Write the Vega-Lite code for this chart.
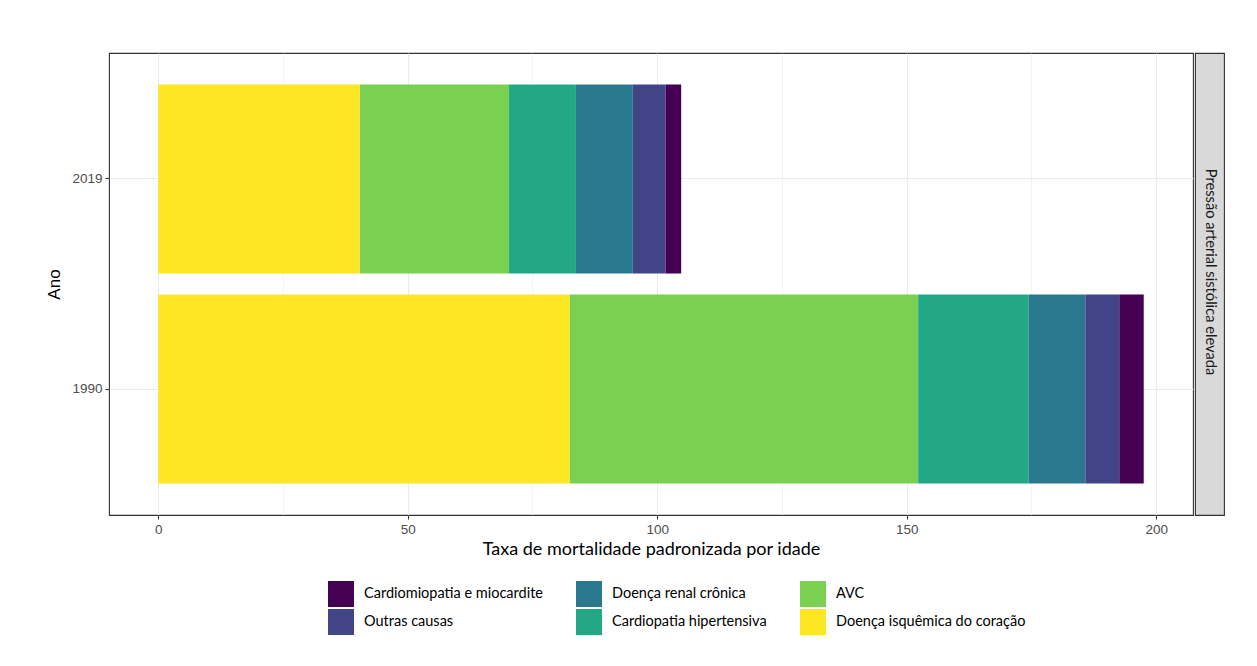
{
  "$schema": "https://vega.github.io/schema/vega-lite/v6.json",
  "padding": {"left": 45, "top": 52, "right": 5, "bottom": 5},
  "background": "white",
  "spacing": 0,
  "config": {
    "font": "Liberation Sans",
    "axis": {"domain": false, "tickColor": "#333333", "labelColor": "#4d4d4d", "labelFont": "Liberation Sans", "labelFontSize": 13.5, "titleFontWeight": "normal", "titleColor": "#000000"},
    "legend": {"labelFont": "Lato", "labelFontSize": 14.5, "labelColor": "#000000", "labelLimit": 400}
  },
  "datasets": {
    "niveis": [
      {"causa": "Doença isquêmica do coração", "nivel": 1},
      {"causa": "AVC", "nivel": 2},
      {"causa": "Cardiopatia hipertensiva", "nivel": 3},
      {"causa": "Doença renal crônica", "nivel": 4},
      {"causa": "Outras causas", "nivel": 5},
      {"causa": "Cardiomiopatia e miocardite", "nivel": 6}
    ]
  },
  "hconcat": [
    {
      "width": 1084,
      "height": 462,
      "view": {"stroke": "#333333", "strokeWidth": 1.1},
      "data": {"values": [
        {"Ano": "2019", "causa": "Doença isquêmica do coração", "valor": 40.4},
        {"Ano": "2019", "causa": "AVC", "valor": 29.9},
        {"Ano": "2019", "causa": "Cardiopatia hipertensiva", "valor": 13.4},
        {"Ano": "2019", "causa": "Doença renal crônica", "valor": 11.4},
        {"Ano": "2019", "causa": "Outras causas", "valor": 6.6},
        {"Ano": "2019", "causa": "Cardiomiopatia e miocardite", "valor": 3.1},
        {"Ano": "1990", "causa": "Doença isquêmica do coração", "valor": 82.5},
        {"Ano": "1990", "causa": "AVC", "valor": 69.8},
        {"Ano": "1990", "causa": "Cardiopatia hipertensiva", "valor": 22.1},
        {"Ano": "1990", "causa": "Doença renal crônica", "valor": 11.4},
        {"Ano": "1990", "causa": "Outras causas", "valor": 6.8},
        {"Ano": "1990", "causa": "Cardiomiopatia e miocardite", "valor": 4.9}
      ]},
      "transform": [
        {"lookup": "causa", "from": {"data": {"name": "niveis"}, "key": "causa", "fields": ["nivel"]}}
      ],
      "mark": {"type": "bar"},
      "encoding": {
        "y": {
          "field": "Ano", "type": "nominal", "sort": "descending",
          "scale": {"paddingInner": 0.1, "paddingOuter": 0.15},
          "axis": {"title": "Ano", "titleFont": "Liberation Sans", "titleFontSize": 17, "titlePadding": 8, "labelPadding": 3, "tickSize": 4, "tickWidth": 1.1, "bandPosition": 0.5, "grid": true, "gridColor": "#ebebeb", "gridWidth": 1.1}
        },
        "x": {
          "field": "valor", "type": "quantitative", "stack": "zero",
          "scale": {"domain": [-9.875, 207.375], "nice": false, "zero": false},
          "axis": {
            "title": "Taxa de mortalidade padronizada por idade",
            "titleFont": "Lato", "titleFontSize": 18, "titlePadding": 5,
            "values": [0, 25, 50, 75, 100, 125, 150, 175, 200],
            "labelExpr": "datum.value % 50 == 0 ? datum.label : ''",
            "labelPadding": 3, "tickSize": 4, "tickWidth": 1.1,
            "tickOpacity": {"condition": {"test": "datum.value % 50 == 0", "value": 1}, "value": 0},
            "grid": true, "gridColor": "#ebebeb",
            "gridWidth": {"condition": {"test": "datum.value % 50 == 0", "value": 1.1}, "value": 0.55}
          }
        },
        "color": {
          "field": "causa", "type": "nominal",
          "sort": ["Cardiomiopatia e miocardite", "Outras causas", "Doença renal crônica", "Cardiopatia hipertensiva", "AVC", "Doença isquêmica do coração"],
          "scale": {
            "domain": ["Cardiomiopatia e miocardite", "Outras causas", "Doença renal crônica", "Cardiopatia hipertensiva", "AVC", "Doença isquêmica do coração"],
            "range": ["#440154", "#414487", "#2A788E", "#22A884", "#7AD151", "#FDE725"]
          },
          "legend": {
            "title": null, "orient": "none", "legendX": 219, "legendY": 528,
            "direction": "vertical",
            "columns": 3, "columnPadding": 33, "rowPadding": 2,
            "symbolType": "square", "symbolSize": 676, "symbolStrokeWidth": 0, "symbolOpacity": 1,
            "labelOffset": 10
          }
        },
        "order": {"field": "nivel", "type": "quantitative", "sort": "ascending"}
      }
    },
    {
      "width": 29,
      "height": 462,
      "view": {"fill": "#d9d9d9", "stroke": "#333333", "strokeWidth": 1.1},
      "data": {"values": [{"label": "Pressão arterial sistólica elevada"}]},
      "mark": {"type": "text", "angle": 90, "font": "Lato", "fontSize": 14.7, "color": "#1a1a1a", "align": "center", "baseline": "middle", "dx": -12},
      "encoding": {"text": {"field": "label"}}
    }
  ]
}
